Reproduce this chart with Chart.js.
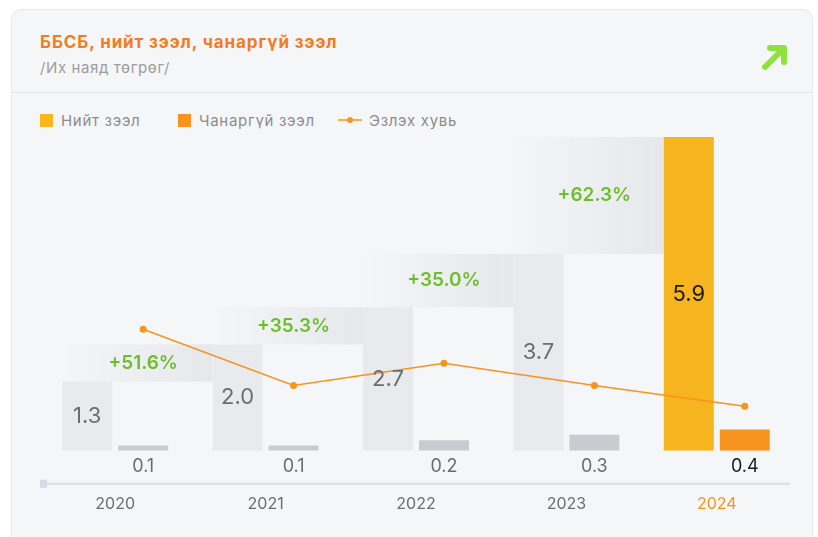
<!DOCTYPE html>
<html>
<head>
<meta charset="utf-8">
<script src="https://cdn.jsdelivr.net/npm/chart.js@4.4.1/dist/chart.umd.min.js"></script>
<style>
  html, body { margin: 0; padding: 0; background: #fff; }
  body { width: 818px; height: 537px; position: relative; overflow: hidden; font-family: Inter, "Noto Sans", sans-serif; }
  .card { position: absolute; left: 11px; top: 9px; width: 800px; height: 580px; background: #f5f6f8; border: 1px solid #e6e8ec; border-radius: 10px; }
  .head { height: 82px; border-bottom: 1px solid #e3e5e9; position: relative; }
  .title { position: absolute; left: 28px; top: 22px; font-size: 17px; letter-spacing: 0.9px; font-weight: 700; color: #f47b20; }
  .sub { position: absolute; left: 28px; top: 48px; font-size: 15px; letter-spacing: 0.6px; color: #9d9d9d; }
  .arrow { position: absolute; left: 748px; top: 32px; }
  .leg { position: absolute; top: 111px; height: 18px; display: flex; align-items: center; font-size: 15px; letter-spacing: 0.7px; color: #8c8c8c; }
  .leg i { display: inline-block; width: 13px; height: 13px; margin-right: 8px; }
  #wrap { position: absolute; left: 0; top: 0; width: 818px; height: 581px; }
</style>
</head>
<body>
<div class="card">
  <div class="head">
    <div class="title">ББСБ, нийт зээл, чанаргүй зээл</div>
    <div class="sub">/Их наяд төгрөг/</div>
    <svg class="arrow" width="30" height="30" viewBox="0 0 30 30">
      <path d="M5 25 L23 7 M10 6 L24 6 L24 20" fill="none" stroke="#8ee23c" stroke-width="6" stroke-linecap="round" stroke-linejoin="round"/>
    </svg>
  </div>
</div>
<div class="leg" style="left:40px"><i style="background:#fbb619"></i>Нийт зээл</div>
<div class="leg" style="left:178px"><i style="background:#f7931e"></i>Чанаргүй зээл</div>
<div class="leg" style="left:338px">
  <svg width="24" height="10" style="margin-right:7px"><line x1="0" y1="5" x2="24" y2="5" stroke="#f7931e" stroke-width="1.5"/><circle cx="12" cy="5" r="3" fill="#f7931e"/></svg>Эзлэх хувь
</div>
<div id="wrap"><canvas id="chart" width="818" height="581"></canvas></div>

<script>
const years = ['2020', '2021', '2022', '2023', '2024'];
const totalLoans = [1.3, 2.0, 2.7, 3.7, 5.9];
const nplLoans = [0.1, 0.1, 0.2, 0.3, 0.4];
const nplShare = [9.3, 5.0, 6.7, 5.0, 3.4];
const growth = [51.6, 35.3, 35.0, 62.3];

const FONT = 'Inter, "Noto Sans", sans-serif';

// draws the growth steps, value labels and the bottom axis line
const labelPlugin = {
    id: 'labels',
    afterDatasetsUpdate(chart) {
        // share points sit above the npl bars
        const npl = chart.getDatasetMeta(1).data;
        chart.getDatasetMeta(2).data.forEach((p, i) => { p.x = npl[i].x; });
    },
    beforeDatasetsDraw(chart) {
        const ctx = chart.ctx;
        const tot = chart.getDatasetMeta(0).data;
        for (let i = 0; i < growth.length; i++) {
            const a = tot[i], b = tot[i + 1];
            const x0 = a.x - a.width / 2;
            const x1 = b.x - b.width / 2;
            const g = ctx.createLinearGradient(x0, 0, x1, 0);
            g.addColorStop(0, 'rgba(229,231,234,0)');
            g.addColorStop(1, 'rgba(229,231,234,1)');
            ctx.fillStyle = g;
            ctx.fillRect(x0, b.y, x1 - x0, a.y - b.y);
        }
    },
    afterDatasetsDraw(chart) {
        const ctx = chart.ctx;
        const tot = chart.getDatasetMeta(0).data;
        const npl = chart.getDatasetMeta(1).data;
        ctx.save();
        ctx.textAlign = 'center';
        ctx.textBaseline = 'middle';
        tot.forEach((bar, i) => {
            ctx.font = '22px ' + FONT;
            ctx.fillStyle = i === 4 ? '#1a1a1a' : '#6d6d6d';
            ctx.fillText(totalLoans[i].toFixed(1), bar.x, (bar.y + bar.base) / 2);
        });
        npl.forEach((bar, i) => {
            ctx.font = '18px ' + FONT;
            ctx.fillStyle = i === 4 ? '#1a1a1a' : '#6d6d6d';
            ctx.fillText(nplLoans[i].toFixed(1), bar.x, bar.base + 16);
        });
        growth.forEach((v, i) => {
            ctx.font = '600 19px ' + FONT;
            ctx.fillStyle = '#6cbf2b';
            ctx.fillText('+' + v.toFixed(1) + '%', npl[i].x, (tot[i].y + tot[i + 1].y) / 2);
        });
        ctx.restore();
    },
    afterDraw(chart) {
        const ctx = chart.ctx, area = chart.chartArea;
        const y = area.bottom + 33;
        ctx.save();
        ctx.strokeStyle = '#dadde6';
        ctx.lineWidth = 2;
        ctx.beginPath();
        ctx.moveTo(area.left, y);
        ctx.lineTo(area.right - 2, y);
        ctx.stroke();
        ctx.fillStyle = '#d5dae5';
        ctx.fillRect(area.left, y - 4, 7, 8);
        ctx.restore();
    }
};

new Chart(document.getElementById('chart').getContext('2d'), {
    type: 'bar',
    data: {
        labels: years,
        datasets: [
            {
                label: 'Нийт зээл',
                data: totalLoans,
                backgroundColor: ['#e8eaed', '#e8eaed', '#e8eaed', '#e8eaed', '#f6b41e'],
                categoryPercentage: 0.744,
                barPercentage: 0.893,
                order: 1
            },
            {
                label: 'Чанаргүй зээл',
                data: nplLoans,
                backgroundColor: ['#c8ccd1', '#c8ccd1', '#c8ccd1', '#c8ccd1', '#f7931f'],
                categoryPercentage: 0.744,
                barPercentage: 0.893,
                order: 1
            },
            {
                type: 'line',
                label: 'Эзлэх хувь',
                data: nplShare,
                yAxisID: 'y2',
                borderColor: '#f7931e',
                backgroundColor: '#f7931e',
                borderWidth: 1.5,
                pointRadius: 3.5,
                pointBorderWidth: 0,
                tension: 0,
                order: 0
            }
        ]
    },
    options: {
        responsive: false,
        animation: false,
        layout: { padding: { left: 40, right: 26, top: 137, bottom: 23 } },
        plugins: {
            legend: { display: false },
            tooltip: { enabled: false }
        },
        scales: {
            x: {
                grid: { display: false, drawTicks: false },
                border: { display: false },
                ticks: {
                    padding: 44,
                    font: { family: FONT, size: 16 },
                    color: (c) => c.index === 4 ? '#f7931e' : '#6d6d6d'
                }
            },
            y: { display: false, min: 0, max: 5.9 },
            y2: { display: false, min: 0, max: 24 }
        }
    },
    plugins: [labelPlugin]
});
</script>
</body>
</html>
